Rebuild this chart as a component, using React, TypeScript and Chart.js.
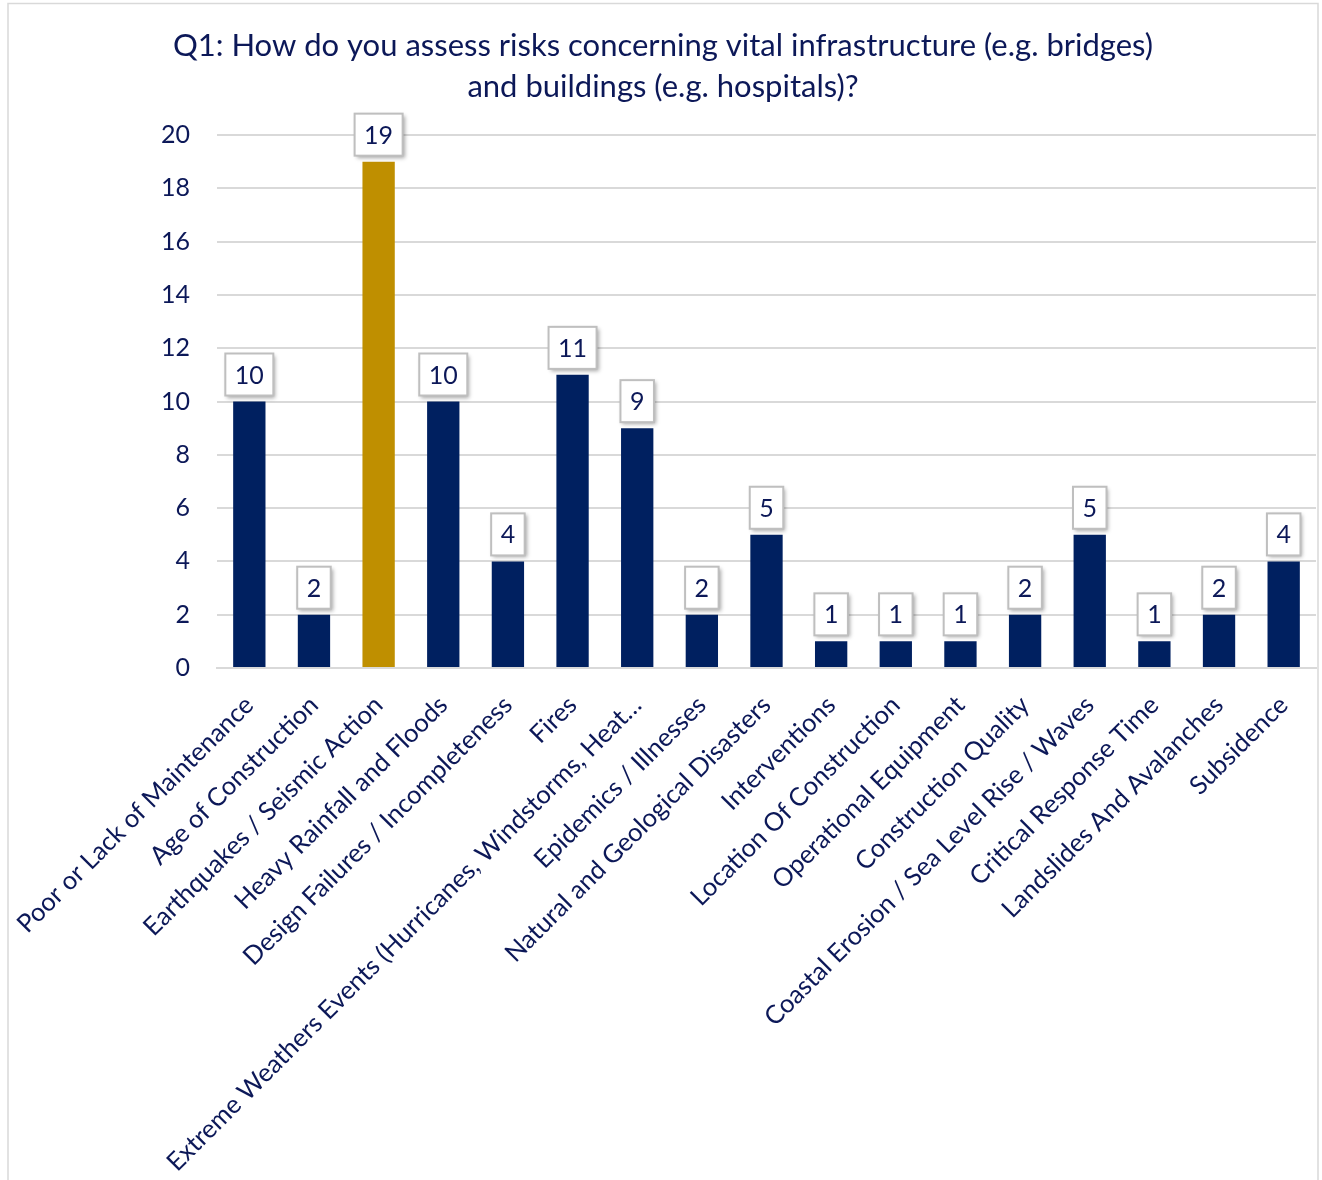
import React, { useEffect, useRef } from "react";
import { Chart, registerables } from "chart.js";

Chart.register(...registerables);

const TITLE_LINES = [
  "Q1: How do you assess risks concerning vital infrastructure (e.g. bridges)",
  "and buildings (e.g. hospitals)?",
];

const CATEGORIES = [
  "Poor or Lack of Maintenance",
  "Age of Construction",
  "Earthquakes / Seismic Action",
  "Heavy Rainfall and Floods",
  "Design Failures / Incompleteness",
  "Fires",
  "Extreme Weathers Events (Hurricanes, Windstorms, Heat…",
  "Epidemics / Illnesses",
  "Natural and Geological Disasters",
  "Interventions",
  "Location Of Construction",
  "Operational Equipment",
  "Construction Quality",
  "Coastal Erosion / Sea Level Rise / Waves",
  "Critical Response Time",
  "Landslides And Avalanches",
  "Subsidence",
];

const VALUES = [10, 2, 19, 10, 4, 11, 9, 2, 5, 1, 1, 1, 2, 5, 1, 2, 4];

const HIGHLIGHT_INDEX = 2;

const Y_MIN = 0;
const Y_MAX = 20;
const Y_STEP = 2;

const NAVY = "#002060";
const GOLD = "#BF8F00";
const TEXT = "#0c1858";
const GRID = "#d9d9d9";
const FONT = "Lato";

const W = 1322;
const H = 1180;

const frameAndTitle = {
  id: "frameAndTitle",
  beforeDraw(chart: any) {
    const ctx = chart.ctx;
    ctx.save();
    ctx.fillStyle = "#ffffff";
    ctx.fillRect(0, 0, W, H);
    ctx.strokeStyle = GRID;
    ctx.lineWidth = 1.5;
    ctx.strokeRect(8, 3.5, 1310, H + 10);
    ctx.fillStyle = TEXT;
    ctx.font = `31px ${FONT}`;
    ctx.textAlign = "center";
    ctx.textBaseline = "middle";
    ctx.fillText(TITLE_LINES[0], 663, 46);
    ctx.fillText(TITLE_LINES[1], 663, 87);
    ctx.restore();
  },
};

const boxLabels = {
  id: "boxLabels",
  afterDatasetsDraw(chart: any) {
    const ctx = chart.ctx;
    const meta = chart.getDatasetMeta(0);
    const data = chart.data.datasets[0].data;
    ctx.save();
    ctx.font = `25px ${FONT}`;
    meta.data.forEach((bar: any, i: number) => {
      const txt = String(data[i]);
      const tw = ctx.measureText(txt).width;
      const bw = tw + 19;
      const bh = 42;
      const x = bar.x - bw / 2;
      const y = bar.y - 6 - bh;
      ctx.save();
      ctx.shadowColor = "rgba(0,0,0,0.35)";
      ctx.shadowBlur = 4;
      ctx.shadowOffsetX = 2;
      ctx.shadowOffsetY = 2;
      ctx.fillStyle = "#ffffff";
      ctx.fillRect(x, y, bw, bh);
      ctx.restore();
      ctx.strokeStyle = "#bfbfbf";
      ctx.lineWidth = 2;
      ctx.strokeRect(x, y, bw, bh);
      ctx.fillStyle = TEXT;
      ctx.textAlign = "center";
      ctx.textBaseline = "middle";
      ctx.fillText(txt, bar.x, y + bh / 2 + 1);
    });
    ctx.restore();
  },
};

export default function App() {
  const ref = useRef<HTMLCanvasElement>(null);

  useEffect(() => {
    if (!ref.current) return;
    const chart = new Chart(ref.current, {
      type: "bar",
      data: {
        labels: CATEGORIES,
        datasets: [
          {
            data: VALUES,
            backgroundColor: VALUES.map((_, i) => (i === HIGHLIGHT_INDEX ? GOLD : NAVY)),
            barPercentage: 0.5,
            categoryPercentage: 1,
          },
        ],
      },
      options: {
        responsive: false,
        animation: false,
        devicePixelRatio: 1,
        layout: { padding: { top: 135, right: 6, left: 0, bottom: 0 } },
        plugins: {
          legend: { display: false },
          title: { display: false },
          tooltip: { enabled: false },
        },
        scales: {
          x: {
            grid: { display: false, drawTicks: false },
            border: { display: true, color: GRID, width: 2 },
            ticks: {
              autoSkip: false,
              minRotation: 45,
              maxRotation: 45,
              padding: 22,
              color: TEXT,
              font: { family: FONT, size: 25.5 },
            },
            afterFit: (s: any) => {
              s.height = 512;
              s.paddingLeft = 0;
              s.paddingRight = 0;
            },
          },
          y: {
            min: Y_MIN,
            max: Y_MAX,
            grid: { color: GRID, lineWidth: 2, drawTicks: false },
            border: { display: false },
            ticks: {
              stepSize: Y_STEP,
              padding: 27,
              color: TEXT,
              font: { family: FONT, size: 25 },
            },
            afterFit: (s: any) => {
              s.width = 217;
              s.paddingTop = 0;
              s.paddingBottom = 0;
            },
          },
        },
      },
      plugins: [frameAndTitle, boxLabels],
    });
    return () => chart.destroy();
  }, []);

  return (
    <canvas
      ref={ref}
      width={W}
      height={H}
      style={{ position: "absolute", left: 0, top: 0, width: W, height: H, display: "block" }}
    />
  );
}
